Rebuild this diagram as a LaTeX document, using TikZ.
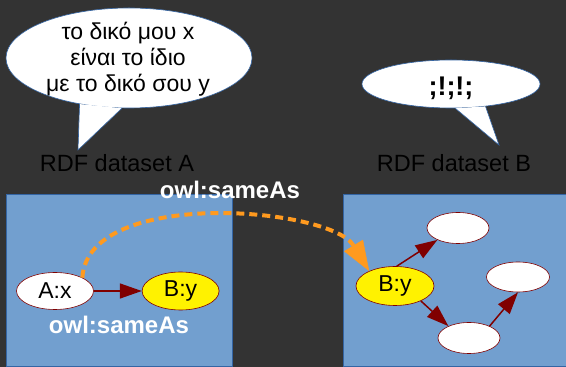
\documentclass[tikz,border=0pt]{standalone}
\usepackage{fontspec}
\setmainfont{Liberation Sans}
\usetikzlibrary{arrows.meta}
\usetikzlibrary{positioning}
\usetikzlibrary{shapes.geometric}
\definecolor{bgdark}{HTML}{333333}
\definecolor{setblue}{HTML}{729FCF}
\definecolor{setedge}{HTML}{3465A4}
\definecolor{linkred}{HTML}{800000}
\definecolor{sameorange}{HTML}{FF9A1F}

\begin{document}
\begin{tikzpicture}[
				x=1pt, y=1pt,
				node distance=8mm,
				dataset/.style={fill=setblue, draw=setedge, line width=0.8pt},
				res/.style={ellipse, draw=linkred, line width=0.6pt, fill=white, inner sep=0pt,
					minimum width=62pt, minimum height=31pt, font=\fontsize{23}{26}\selectfont},
				hit/.style={res, fill=yellow, minimum width=77pt, minimum height=38pt},
				link/.style={line width=1.5pt, draw=linkred, -{Triangle[length=22pt, width=15pt]}},
				sameas/.style={line width=4pt, draw=sameorange, dash pattern=on 8pt off 5pt,
					-{Triangle[length=30pt, width=22pt, line width=0.5pt]}},
				bubble/.style={fill=white, draw=setedge, line width=0.6pt},
				caption/.style={font=\fontsize{23.5}{26}\selectfont, text=black},
				owllabel/.style={font=\bfseries\fontsize{24}{26}\selectfont, text=white},
			]
				\useasboundingbox (0,0) rectangle (566,367);
				\fill[bgdark] (0,0) rectangle (566,367);
				
				% the two datasets
				\draw[dataset] (6,1) rectangle (232,173);
				\draw[dataset] (343,1) rectangle (572,173);
				\node (capA) [caption] at (117,204) {RDF dataset A};
				\node (capB) [caption] at (454,204) {RDF dataset B};
				
				% speech bubbles
				\node (bubA) [bubble, ellipse, minimum width=246pt, minimum height=100pt] at (129,309) {};
				\coordinate (tipA) at (78,217);
				\filldraw[bubble] (bubA.223) -- (tipA) -- (bubA.262);
				\node (sayA) [align=center, font=\fontsize{23}{26}\selectfont] at (128,308)
					{το δικό μου x\\είναι το ίδιο\\με το δικό σου y};
				
				\node (bubB) [bubble, ellipse, minimum width=178pt, minimum height=48pt] at (451,283) {};
				\coordinate (tipB) at (499,222);
				\filldraw[bubble] (bubB.280) -- (tipB) -- (bubB.327);
				\node (sayB) [font=\bfseries\fontsize{27}{30}\selectfont] at (451,279) {;!;!;};
				
				% dataset A
				\node (ax) [res, minimum width=77pt, minimum height=37pt] at (55,76) {A:x};
				\node (byA) [hit, right=48pt of ax] {B:y};
				\node (owlA) [owllabel] at (119,42) {owl:sameAs};
				\draw[link] (ax) -- (byA);
				
				% dataset B
				\node (byB) [hit, minimum width=78pt, minimum height=39pt] at (395,81) {B:y};
				\node (top) [res] at (458,139) {};
				\node (rgt) [res, minimum width=63pt, minimum height=30pt] at (518,90) {};
				\node (bot) [res] at (469,29) {};
				\draw[link] (byB.85) -- (top.210);
				\draw[link] (byB.330) -- (bot.150);
				\draw[link] (bot.30) -- (rgt.south);
				
				% link between the datasets
				\node (owlTop) [owllabel] at (230,177) {owl:sameAs};
				\draw[sameas] (ax.26) .. controls (88,180) and (330,160) .. (byB.150);
			\end{tikzpicture}
\end{document}
